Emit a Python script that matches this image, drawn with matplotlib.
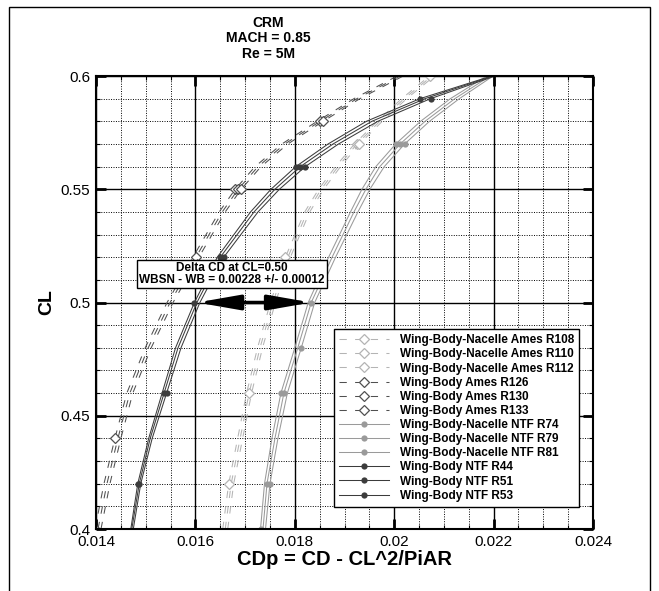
import matplotlib
matplotlib.use("Agg")
import matplotlib.pyplot as plt
from matplotlib.ticker import MultipleLocator, FormatStrFormatter
from matplotlib.patches import Rectangle

plt.rcParams["font.family"] = ["Liberation Sans", "DejaVu Sans"]

# lift coefficient stations shared by all runs
CL = [0.40, 0.42, 0.44, 0.46, 0.48, 0.50, 0.52, 0.54, 0.55, 0.56, 0.57, 0.58, 0.59, 0.60]

# Ames, wing-body-nacelle (light dashed, open diamonds)
ames_wbn_r108 = [0.01655, 0.01667, 0.01685, 0.01703, 0.01725, 0.01751, 0.01781, 0.01820, 0.01848, 0.01882, 0.01920, 0.01966, 0.02015, 0.02071]
ames_wbn_r110 = [0.01660, 0.01672, 0.01690, 0.01708, 0.01730, 0.01756, 0.01786, 0.01825, 0.01853, 0.01887, 0.01925, 0.01971, 0.02020, 0.02076]
ames_wbn_r112 = [0.01665, 0.01677, 0.01695, 0.01713, 0.01735, 0.01761, 0.01791, 0.01830, 0.01858, 0.01892, 0.01930, 0.01976, 0.02025, 0.02081]

# Ames, wing-body (dark dashed, open diamonds)
ames_wb_r126 = [0.01398, 0.01416, 0.01438, 0.01462, 0.01499, 0.01543, 0.01595, 0.01648, 0.01680, 0.01720, 0.01774, 0.01845, 0.01919, 0.02006]
ames_wb_r130 = [0.01404, 0.01422, 0.01444, 0.01468, 0.01505, 0.01549, 0.01601, 0.01654, 0.01686, 0.01726, 0.01780, 0.01851, 0.01925, 0.02012]
ames_wb_r133 = [0.01410, 0.01428, 0.01450, 0.01474, 0.01511, 0.01555, 0.01607, 0.01660, 0.01692, 0.01732, 0.01786, 0.01857, 0.01931, 0.02018]

# NTF, wing-body-nacelle (gray solid)
ntf_wbn_r74 = [0.01731, 0.01739, 0.01754, 0.01772, 0.01800, 0.01827, 0.01868, 0.01912, 0.01935, 0.01963, 0.02003, 0.02053, 0.02113, 0.02186]
ntf_wbn_r79 = [0.01736, 0.01744, 0.01760, 0.01778, 0.01806, 0.01833, 0.01875, 0.01919, 0.01943, 0.01971, 0.02012, 0.02062, 0.02122, 0.02193]
ntf_wbn_r81 = [0.01741, 0.01750, 0.01766, 0.01785, 0.01813, 0.01840, 0.01882, 0.01927, 0.01951, 0.01980, 0.02021, 0.02071, 0.02131, 0.02199]

# NTF, wing-body (dark solid)
ntf_wb_r44 = [0.01472, 0.01487, 0.01509, 0.01537, 0.01565, 0.01603, 0.01650, 0.01718, 0.01760, 0.01811, 0.01877, 0.01955, 0.02062, 0.02199]
ntf_wb_r51 = [0.01475, 0.01490, 0.01513, 0.01542, 0.01571, 0.01609, 0.01657, 0.01726, 0.01769, 0.01821, 0.01888, 0.01967, 0.02073, 0.02203]
ntf_wb_r53 = [0.01470, 0.01484, 0.01506, 0.01533, 0.01560, 0.01598, 0.01644, 0.01711, 0.01752, 0.01802, 0.01867, 0.01944, 0.02052, 0.02196]

# label, data, family, indices of the stations carrying a symbol
series = [
    ("Wing-Body-Nacelle Ames R108", ames_wbn_r108, "ames_wbn", [1, 6, 13]),
    ("Wing-Body-Nacelle Ames R110", ames_wbn_r110, "ames_wbn", [3, 10]),
    ("Wing-Body-Nacelle Ames R112", ames_wbn_r112, "ames_wbn", [5, 10]),
    ("Wing-Body Ames R126", ames_wb_r126, "ames_wb", [0, 2, 8]),
    ("Wing-Body Ames R130", ames_wb_r130, "ames_wb", [6, 8, 11]),
    ("Wing-Body Ames R133", ames_wb_r133, "ames_wb", [8, 11]),
    ("Wing-Body-Nacelle NTF R74", ntf_wbn_r74, "ntf_wbn", [0, 3, 10]),
    ("Wing-Body-Nacelle NTF R79", ntf_wbn_r79, "ntf_wbn", [1, 3, 5, 10]),
    ("Wing-Body-Nacelle NTF R81", ntf_wbn_r81, "ntf_wbn", [1, 4, 10]),
    ("Wing-Body NTF R44", ntf_wb_r44, "ntf_wb", [1, 3, 6, 9]),
    ("Wing-Body NTF R51", ntf_wb_r51, "ntf_wb", [3, 6, 9, 12]),
    ("Wing-Body NTF R53", ntf_wb_r53, "ntf_wb", [1, 5, 9, 12]),
]

styles = {
    "ames_wbn": dict(color="#b4b4b4", ls=(0, (7, 8)), marker="D", ms=5, mfc="white", mew=0.9),
    "ames_wb": dict(color="#505050", ls=(0, (7, 8)), marker="D", ms=5, mfc="white", mew=0.9),
    "ntf_wbn": dict(color="#9a9a9a", ls="-", marker="o", ms=4.5, mew=0),
    "ntf_wb": dict(color="#3c3c3c", ls="-", marker="o", ms=4.5, mew=0),
}

fig = plt.figure(figsize=(6.59, 5.91), dpi=100)
ax = fig.add_axes([0.1457, 0.1049, 0.7542, 0.7665])

for label, cdp, fam, marks in series:
    ax.plot(cdp, CL, label=label, lw=0.75, markevery=marks, **styles[fam])

ax.set_xlim(0.014, 0.024)
ax.set_ylim(0.4, 0.6)
ax.xaxis.set_major_locator(MultipleLocator(0.002))
ax.xaxis.set_minor_locator(MultipleLocator(0.0005))
ax.yaxis.set_major_locator(MultipleLocator(0.05))
ax.yaxis.set_minor_locator(MultipleLocator(0.01))
ax.xaxis.set_major_formatter(FormatStrFormatter("%g"))
ax.yaxis.set_major_formatter(FormatStrFormatter("%g"))

ax.grid(which="major", color="k", lw=1.0, ls="-")
ax.grid(which="minor", color="k", lw=0.7, ls=(0, (1, 1.5)))
ax.set_axisbelow(True)
ax.tick_params(which="major", direction="in", length=7, width=2, labelsize=11, pad=4,
               top=True, right=True)
ax.tick_params(which="minor", direction="in", length=3, width=0.8, top=True, right=True)
for sp in ax.spines.values():
    sp.set_linewidth(1.5)

ax.set_xlabel("CDp = CD - CL^2/PiAR", fontsize=14.5, fontweight="bold", labelpad=1)
ax.set_ylabel("CL", fontsize=14, fontweight="bold", labelpad=4)

# delta CD arrow at CL = 0.50
ax.annotate("", xy=(0.01603, 0.5), xytext=(0.01833, 0.5),
            arrowprops=dict(arrowstyle="<|-|>,head_length=1.6,head_width=0.28",
                            color="k", lw=2.5, mutation_scale=16,
                            shrinkA=0, shrinkB=0), zorder=5)
ax.text(0.016736, 0.5126, "Delta CD at CL=0.50\nWBSN - WB = 0.00228 +/- 0.00012",
        ha="center", va="center", fontsize=8.5, fontweight="bold", linespacing=1.0,
        bbox=dict(boxstyle="square,pad=0.15", fc="white", ec="k", lw=1), zorder=6)

leg = ax.legend(loc="upper left", bbox_to_anchor=(0.479, 0.4415), borderaxespad=0,
                prop=dict(weight="bold", size=8.5), labelspacing=0.18,
                handlelength=4.2, handletextpad=0.9, borderpad=0.45,
                frameon=True, fancybox=False, framealpha=1, edgecolor="k")
leg.get_frame().set_linewidth(1)
leg.set_zorder(7)

fig.text(268 / 659, 1 - 23 / 591, "CRM", ha="center", va="center", fontsize=10, fontweight="bold")
fig.text(268 / 659, 1 - 38 / 591, "MACH = 0.85", ha="center", va="center", fontsize=10, fontweight="bold")
fig.text(268 / 659, 1 - 54 / 591, "Re = 5M", ha="center", va="center", fontsize=10, fontweight="bold")

fig.add_artist(Rectangle((9 / 659, -0.05), 641 / 659, 1.05 - 7 / 591,
                         transform=fig.transFigure, fill=False, ec="k", lw=1))

fig.savefig("out.png", dpi=100)
